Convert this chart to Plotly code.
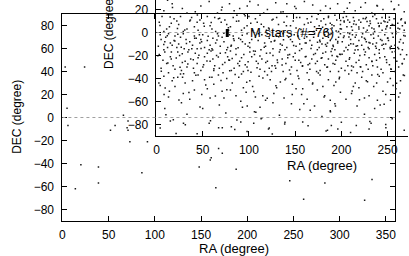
import plotly.graph_objects as go

W, H = 409, 256
FONT = "Liberation Sans, Arial, Helvetica, sans-serif"

# ---------------- data (RA, DEC in degrees) ----------------
# outer (all-sky) panel
main_points = [
    (3, 44), (24, 44), (5, 8), (6, -7), (57, -7), (52, -11), (70, -9), (71, -11),
    (73, -21), (92, -21), (20, -41), (39, -43), (39, -57), (14, -62), (86, -48),
    (66, 2), (71, -3), (169, -27), (173, -31), (161, -35), (148, -43), (188, -45),
    (166, -61), (246, -55), (284, -57), (335, -54), (261, -71), (327, -72), (160, -37),
    (123, -14), (131, -5), (169, -9), (173, -9), (193, -4), (207, -5), (223, -10),
    (260, -4), (291, -7), (298, -10), (318, -7), (334, -5), (350, -9),
    (110, 20), (130, 35), (150, 60), (200, 10), (230, 45), (260, 25), (290, 5),
    (310, 70), (340, 30), (355, 15), (120, -2), (180, 50), (275, 40), (215, -1), (300, 55),
]

# inner panel, grouped in declination bands
inset_north = [
    (8, 19), (141, 25), (233, 17), (57, 27), (188, 21), (95, 16), (262, 24), (17, 25),
    (120, 20), (203, 18), (71, 22), (160, 27), (245, 20), (33, 17), (110, 24), (226, 26),
    (84, 19), (175, 16), (254, 27), (48, 23), (137, 18), (196, 25), (12, 28), (66, 17),
    (151, 21), (239, 23), (101, 27), (215, 19), (28, 21), (129, 26), (268, 18), (79, 25),
    (183, 23), (42, 18), (209, 26), (116, 17), (257, 20), (169, 24), (90, 21), (221, 22),
]
inset_band_0_16 = [
    (3, 9), (151, 4), (227, 13), (64, 1), (199, 7), (112, 15), (248, 3), (19, 12),
    (176, 6), (89, 10), (236, 1), (41, 5), (130, 13), (209, 9), (266, 6), (55, 14),
    (185, 2), (102, 8), (219, 11), (11, 3), (163, 12), (243, 8), (76, 7), (193, 15),
    (29, 1), (138, 9), (257, 12), (95, 4), (212, 2), (47, 11), (171, 5), (231, 10),
    (6, 14), (119, 2), (202, 13), (263, 3), (70, 9), (188, 8), (145, 6), (24, 7),
    (224, 4), (83, 13), (252, 11), (158, 1), (36, 10), (206, 5), (125, 11), (269, 9),
    (60, 3), (181, 12), (241, 6), (14, 5), (107, 12), (216, 7), (92, 2), (195, 11),
    (51, 8), (234, 14), (167, 9), (259, 1), (33, 3), (213, 13), (132, 7), (246, 10),
    (74, 11), (190, 4), (22, 10), (155, 13), (228, 2), (98, 6), (255, 7), (45, 2),
    (178, 10), (221, 9), (116, 5), (238, 12), (67, 12), (200, 3), (141, 14), (265, 12),
    (8, 1), (186, 13), (249, 5), (80, 5), (214, 10), (38, 13), (160, 7), (230, 6),
    (109, 9), (197, 1), (58, 6), (244, 13), (173, 2), (261, 8), (26, 14), (207, 11),
    (122, 3), (233, 4), (87, 15), (183, 7), (250, 9), (16, 8), (148, 10), (219, 3),
    (63, 13), (203, 10), (135, 1), (240, 8), (100, 14), (268, 2), (192, 6), (44, 9),
    (226, 12), (168, 14), (253, 4), (78, 2), (211, 5),
]
inset_band_0_m16 = [
    (5, -6), (118, -12), (232, -2), (47, -9), (190, -14), (83, -3), (251, -7), (22, -13),
    (160, -5), (213, -10), (66, -1), (139, -15), (244, -11), (10, -4), (177, -8),
    (101, -13), (225, -5), (35, -15), (199, -1), (128, -7), (262, -14), (58, -11),
    (153, -3), (238, -9), (91, -6), (184, -12), (15, -9), (114, -2), (207, -15), (73, -8),
    (256, -4), (41, -3), (168, -11), (219, -7), (105, -16), (2, -12), (147, -8),
    (229, -13), (61, -5), (194, -6), (29, -1), (134, -10), (247, -2), (86, -14),
    (171, -1), (216, -12), (52, -13), (122, -5), (267, -9), (19, -7), (186, -4),
    (96, -10), (241, -15), (69, -12), (157, -14), (203, -3), (39, -11), (110, -7),
    (254, -12), (8, -15), (179, -10), (227, -8), (79, -2), (143, -4), (210, -6), (55, -7),
    (196, -9), (26, -4), (126, -14), (259, -1), (93, -8), (166, -7), (235, -5), (44, -14),
    (182, -2), (13, -1), (151, -12), (222, -11), (64, -9), (107, -4), (248, -10), (32, -6),
    (191, -11), (137, -1), (264, -6), (76, -15), (205, -13), (117, -9), (240, -3),
    (50, -2), (174, -15), (98, -1), (230, -14), (17, -11), (162, -9), (212, -2), (81, -11),
    (253, -14), (36, -8), (197, -4), (130, -3), (244, -7), (60, -14), (188, -7), (4, -2),
    (145, -6), (218, -15), (89, -5), (269, -3), (24, -10), (155, -10), (234, -10),
    (71, -4), (201, -8), (113, -15), (258, -11), (43, -5), (180, -5), (223, -1),
    (99, -12), (250, -5), (12, -13), (141, -13), (208, -11), (57, -15), (189, -1),
    (124, -8), (237, -12), (84, -7), (170, -4), (30, -14), (215, -4), (103, -6),
    (261, -13), (67, -3), (193, -15), (149, -2), (226, -6), (9, -8), (176, -13),
    (120, -1), (246, -14), (48, -6), (209, -1), (136, -11), (266, -15), (77, -13),
    (185, -9), (231, -9), (20, -3),
]
inset_band_m16_m35 = [
    (7, -24), (122, -31), (236, -19), (51, -28), (183, -17), (94, -34), (249, -26),
    (25, -20), (158, -29), (211, -33), (69, -18), (142, -22), (262, -30), (13, -35),
    (174, -25), (106, -19), (227, -28), (40, -31), (196, -21), (131, -26), (255, -17),
    (62, -33), (150, -18), (219, -24), (88, -27), (188, -34), (18, -29), (114, -23),
    (203, -16), (77, -21), (243, -32), (34, -17), (166, -32), (98, -30), (230, -22),
    (3, -19), (137, -34), (214, -18), (58, -25), (191, -27), (27, -33), (126, -20),
    (268, -23), (84, -31), (179, -22), (45, -22), (110, -27), (239, -30), (72, -35),
    (154, -24), (207, -29), (11, -27), (146, -30), (223, -34), (65, -20), (199, -19),
    (101, -17), (258, -34), (31, -25), (170, -19), (117, -34), (233, -25), (55, -18),
    (185, -30), (92, -22), (247, -21), (20, -32), (161, -21), (216, -26), (80, -16),
    (140, -27), (264, -19), (41, -35), (177, -33), (108, -25), (226, -17), (63, -29),
    (194, -24), (15, -21), (133, -17), (252, -28), (86, -19), (163, -35), (209, -22),
    (48, -33), (120, -25), (241, -18), (74, -26), (182, -28), (5, -31), (152, -33),
    (220, -20), (96, -28), (266, -27), (37, -23), (172, -27), (125, -29), (229, -32),
    (59, -16), (200, -31), (23, -17), (144, -19), (257, -22), (81, -33), (190, -20),
    (112, -32), (213, -30), (44, -27), (168, -23), (103, -21), (245, -35), (68, -31),
    (156, -26), (28, -26), (205, -25), (136, -23), (234, -29), (9, -17), (180, -18),
    (90, -25), (254, -32), (52, -21), (148, -21), (221, -30), (119, -18), (238, -24),
    (33, -30), (186, -23), (79, -24), (260, -25), (16, -23), (164, -28), (99, -33),
    (197, -34), (61, -23), (129, -31), (217, -35), (42, -18),
]
inset_band_m35_m60 = [
    (4, -46), (127, -53), (241, -38), (58, -57), (186, -41), (92, -36), (259, -49),
    (23, -39), (163, -58), (215, -44), (71, -51), (140, -40), (230, -55), (13, -56),
    (177, -37), (104, -47), (250, -43), (39, -42), (199, -52), (118, -59), (267, -37),
    (62, -45), (151, -49), (222, -39), (86, -55), (192, -46), (29, -53), (111, -38),
    (205, -58), (76, -40), (245, -51), (45, -37), (169, -44), (97, -52), (235, -47),
    (8, -38), (134, -43), (211, -53), (55, -49), (182, -55), (20, -47), (145, -36),
    (262, -56), (82, -44), (174, -50), (36, -58), (123, -41), (227, -42), (67, -37),
    (157, -54), (198, -39), (14, -51), (101, -42), (253, -40), (49, -54), (188, -59),
    (130, -48), (219, -48), (89, -39), (239, -59), (31, -44), (165, -41), (115, -55),
    (208, -36), (73, -57), (147, -45), (256, -46), (41, -50), (180, -47), (94, -48),
    (225, -57), (17, -42), (138, -57), (264, -42), (60, -39), (194, -43), (107, -56),
    (233, -37), (26, -36), (154, -40), (80, -50), (213, -47), (120, -37), (248, -54),
    (52, -41),
]
inset_south = [
    (9, -66), (133, -72), (242, -63), (57, -79), (188, -68), (98, -86), (255, -75),
    (27, -61), (164, -81), (217, -64), (75, -70), (146, -62), (230, -84), (15, -77),
    (179, -73), (112, -65), (263, -69), (44, -88), (200, -78), (122, -83), (68, -63),
    (155, -67), (225, -71), (87, -76), (193, -62), (33, -71), (106, -69), (210, -87),
    (81, -82), (248, -80), (50, -66), (171, -64), (139, -78), (236, -66), (4, -83),
    (126, -61), (268, -85), (61, -74), (185, -85), (93, -65),
]
# finer readings across RA strips of the inner panel
inset_strips_west = [
    (1.5, -20.3), (3.8, 6.1), (5.2, -33.7), (7.9, -10.4), (9.4, -48.2), (11.7, -2.8),
    (12.3, -26.5), (14.8, 13.6), (16.1, -16.9), (18.6, -39.4), (19.9, -7.3), (21.4, -22.1),
    (22.7, 3.5), (24.3, -58.6), (25.5, -30.2), (26.8, -12.7), (2.6, -43.9), (10.2, -71.5),
    (17.3, 21.8), (23.1, -1.4), (27.9, -18.4), (29.3, -35.8), (30.6, 2.2), (32.4, -9.6),
    (33.9, -27.3), (35.1, -52.1), (36.7, 10.9), (38.2, -14.2), (39.8, -23.6), (41.3, -4.9),
    (42.6, -37.1), (44.2, 15.3), (45.9, -19.8), (47.1, -64.7), (48.8, -8.1), (50.2, -29.9),
    (51.7, 5.4), (53.3, -45.6), (31.2, -80.2), (46.4, -1.9), (54.6, -24.8), (55.9, -3.2),
    (57.5, -38.9), (59.2, 8.7), (60.8, -15.1), (62.1, -31.4), (63.7, -55.3), (65.4, -6.6),
    (66.9, -21.2), (68.3, 12.4), (69.8, -41.7), (71.5, -27.9), (72.9, -0.7), (74.6, -17.5),
    (76.1, -49.8), (77.8, 4.1), (79.2, -33.2), (80.6, -11.9), (58.4, -76.8), (70.3, 19.6),
    (81.9, -22.6), (83.4, -5.5), (85.1, -36.4), (86.6, 9.8), (88.3, -13.3), (89.7, -28.8),
    (91.2, -59.7), (92.8, -2.3), (94.5, -19.1), (95.9, 14.7), (97.6, -43.2), (99.1, -25.4),
    (100.7, -8.9), (102.2, -34.6), (103.8, 1.6), (105.3, -51.4), (106.9, -16.2),
    (84.7, -84.4), (98.2, 23.1), (107.5, -69.3), (108.8, -30.7), (110.3, -1.1),
    (111.9, -20.5), (113.4, 7.2), (115.1, -39.6), (116.6, -12.8), (118.2, -26.1),
    (119.8, -57.2), (121.3, 3.9), (122.9, -17.7), (124.4, -33.9), (126.1, 11.5),
    (127.5, -7.4), (129.2, -46.3), (130.7, -23.9), (132.3, -3.7), (133.8, -14.9),
    (114.2, -74.1), (125.3, -88.2), (134.6, 17.9),
]
inset_strips_east = [
    (135.9, -28.3), (137.4, -6.2), (139.1, -41.1), (140.6, 5.9), (142.2, -19.6),
    (143.9, -32.5), (145.3, -0.4), (146.9, -53.8), (148.4, -11.3), (150.1, -24.2),
    (151.6, 13.1), (153.2, -37.8), (154.8, -15.6), (156.3, 2.6), (157.9, -29.4),
    (159.4, -61.9), (160.9, -9.2), (138.7, -79.6), (149.5, 22.7), (161.8, -20.8),
    (162.6, -3.6), (164.1, 8.3), (165.7, -26.9), (167.2, -13.8), (168.8, -44.7),
    (170.4, 0.9), (171.9, -18.2), (173.5, 11.7), (175.1, -35.2), (176.6, -6.8),
    (178.2, -22.4), (179.7, 4.6), (181.3, -56.1), (182.9, -10.5), (184.4, -30.1),
    (186.1, 14.2), (187.6, -1.8), (188.9, -16.4), (166.3, -67.5), (177.4, 19.1),
    (183.5, -85.7), (174.2, -8.4), (189.8, 6.7), (191.3, -12.1), (192.9, -27.6),
    (194.4, 1.3), (196.1, -7.9), (197.7, -40.3), (199.2, 10.4), (200.8, -18.9),
    (202.3, -4.4), (203.9, -33.1), (205.5, 13.9), (207.1, -0.2), (208.6, -23.3),
    (210.2, -9.7), (211.7, -50.9), (213.3, 7.5), (214.9, -15.3), (216.1, -2.1),
    (193.6, -63.8), (206.4, 21.2), (198.8, 3.3), (211.1, -29.1), (203.1, 9.1),
    (195.2, -20.7), (217.4, -11.4), (218.9, 4.8), (220.5, -29.7), (222.1, -3.9),
    (223.6, 12.2), (225.2, -19.4), (226.7, 0.5), (228.3, -42.8), (229.9, -8.6),
    (231.4, 7.9), (233.1, -25.1), (234.6, -1.2), (236.2, 15.4), (237.8, -13.6),
    (239.3, -36.6), (240.9, 5.2), (242.4, -6.1), (219.6, -58.4), (230.8, -77.3),
    (238.5, 23.6), (224.3, -14.7), (235.3, 3.1), (227.8, 9.6), (241.6, -21.9),
    (244.1, 1.9), (245.6, -10.2), (247.2, 9.3), (248.8, -23.7), (250.3, -4.7),
    (251.9, 13.2), (253.4, -31.8), (255.1, -0.9), (256.6, 6.4), (258.2, -16.6),
    (259.7, -44.1), (261.3, 3.7), (262.8, -8.3), (264.4, 11.1), (265.9, -27.2),
    (267.5, -2.6), (269.1, 8.1), (270.6, -19.3), (246.3, -62.4), (257.4, 20.4),
    (263.6, -52.6), (252.7, -13.1), (268.2, -37.4), (249.5, 5.8),
]

key_label = "M stars (#=76)"
ra_title = "RA (degree)"
dec_title = "DEC (degree)"
main_ra_ticks = [0, 50, 100, 150, 200, 250, 300, 350]
main_dec_ticks = [-80, -60, -40, -20, 0, 20, 40, 60, 80]
inset_ra_ticks = [0, 50, 100, 150, 200, 250]
inset_dec_ticks = [-80, -60, -40, -20, 0, 20]

# ---------------- figure ----------------
inset_points = (inset_north + inset_band_0_16 + inset_band_0_m16 +
                inset_band_m16_m35 + inset_band_m35_m60 + inset_south +
                inset_strips_west + inset_strips_east)
in_ra = [p[0] for p in inset_points]
in_dec = [p[1] for p in inset_points]
mn_ra = [p[0] for p in main_points]
mn_dec = [p[1] for p in main_points]

dot = dict(size=1.5, color="#1a1a1a", symbol="square", line=dict(width=0))
fig = go.Figure()
fig.add_trace(go.Scatter(x=in_ra, y=in_dec, xaxis="x2", yaxis="y2", mode="markers",
                         marker=dot, showlegend=False, hoverinfo="skip"))
fig.add_trace(go.Scatter(x=mn_ra, y=mn_dec, xaxis="x", yaxis="y", mode="markers",
                         marker=dot, showlegend=False, hoverinfo="skip"))


def px_x(p):
    return p / W


def px_y(p):
    return 1 - p / H


axis_common = dict(showline=True, linecolor="black", linewidth=1, ticks="inside",
                   ticklen=5, tickcolor="black", showgrid=False, zeroline=False,
                   tickfont=dict(family=FONT, size=12, color="black"))

fig.update_layout(
    width=W, height=H, margin=dict(l=0, r=0, t=0, b=0),
    paper_bgcolor="white", plot_bgcolor="rgba(0,0,0,0)",
    font=dict(family=FONT, size=12, color="black"),
    xaxis=dict(domain=[px_x(60), px_x(396)], range=[0, 360], tickvals=main_ra_ticks,
               mirror="ticks", anchor="y", ticklabelstandoff=3, **axis_common),
    yaxis=dict(domain=[px_y(221), px_y(14)], range=[-90, 90], tickvals=main_dec_ticks,
               mirror="ticks", anchor="x", ticklabelstandoff=5, **axis_common),
    xaxis2=dict(domain=[px_x(155), 1], range=[0, 272.1], tickvals=inset_ra_ticks,
                anchor="y2", ticklabelstandoff=3, **axis_common),
    yaxis2=dict(domain=[px_y(136), 1], range=[-90, 28.3], tickvals=inset_dec_ticks,
                anchor="x2", ticklabelstandoff=5, **axis_common),
    shapes=[
        dict(type="line", xref="x domain", yref="y", x0=0, x1=1, y0=0, y1=0,
             line=dict(color="#a0a0a0", width=1, dash="dot")),
        dict(type="line", xref="x2 domain", yref="y2", x0=0, x1=1, y0=0, y1=0,
             line=dict(color="#a0a0a0", width=1, dash="dot")),
        dict(type="rect", xref="paper", yref="paper", x0=px_x(225), x1=px_x(228),
             y0=px_y(37), y1=px_y(29), fillcolor="black", line=dict(width=0)),
    ],
    annotations=[
        dict(text=key_label, x=px_x(247), y=px_y(32), xref="paper", yref="paper",
             xanchor="left", yanchor="middle", showarrow=False, font=dict(size=13)),
        dict(text=ra_title, x=px_x(233), y=px_y(248.5), xref="paper", yref="paper",
             xanchor="center", yanchor="middle", showarrow=False, font=dict(size=13)),
        dict(text=ra_title, x=px_x(322), y=px_y(165), xref="paper", yref="paper",
             xanchor="center", yanchor="middle", showarrow=False, font=dict(size=13)),
        dict(text=dec_title, x=px_x(14), y=px_y(117), xref="paper", yref="paper",
             xanchor="center", yanchor="middle", showarrow=False, textangle=-90,
             font=dict(size=12)),
        dict(text=dec_title, x=px_x(107), y=px_y(32), xref="paper", yref="paper",
             xanchor="center", yanchor="middle", showarrow=False, textangle=-90,
             font=dict(size=12)),
    ],
)

fig.write_html("out.html", config={"displayModeBar": False},
               post_script="document.body.style.margin='0';"
                           "document.body.style.overflow='hidden';")
